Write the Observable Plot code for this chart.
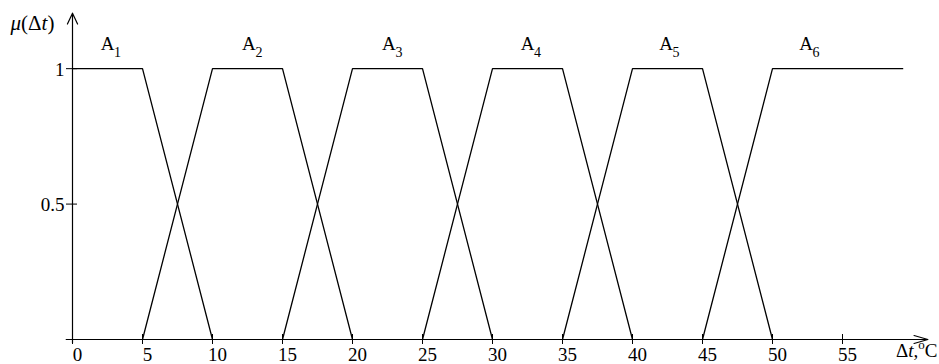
<!DOCTYPE html>
<html>
<head>
<meta charset="utf-8">
<script src="https://cdn.jsdelivr.net/npm/d3@7"></script>
<script src="https://cdn.jsdelivr.net/npm/@observablehq/plot@0.6"></script>
<style>
  html, body { margin: 0; padding: 0; background: #fff; }
  #chart svg { display: block; }
</style>
</head>
<body>
<div id="chart"></div>
<script>
// Membership functions (breakpoints in Δt, °C)
const setNames = ["A1", "A2", "A3", "A4", "A5", "A6"];
const setX = [
  [0, 5, 10],
  [5, 10, 15, 20],
  [15, 20, 25, 30],
  [25, 30, 35, 40],
  [35, 40, 45, 50],
  [45, 50, 59.3]
];
const setMu = [
  [1, 1, 0],
  [0, 1, 1, 0],
  [0, 1, 1, 0],
  [0, 1, 1, 0],
  [0, 1, 1, 0],
  [0, 1, 1]
];
const labelX = [2.5, 12.6, 22.6, 32.5, 42.4, 52.4];
const labelY = [1.09, 1.09, 1.09, 1.09, 1.09, 1.09];
const xTicks = [0, 5, 10, 15, 20, 25, 30, 35, 40, 45, 50, 55];
const yTicks = [0.5, 1];
const yTickLabels = ["0.5", "1"];

const points = setNames.flatMap((name, i) =>
  setX[i].map((x, j) => ({set: name, x, mu: setMu[i][j]})));
const labels = setNames.map((name, i) => ({
  letter: name[0], sub: name.slice(1), x: labelX[i], y: labelY[i]
}));

const font = "'Liberation Serif', 'Times New Roman', serif";

const plot = Plot.plot({
  width: 939,
  height: 364,
  marginLeft: 72,
  marginRight: 13,
  marginTop: 14,
  marginBottom: 25,
  style: {fontFamily: font, fontSize: "19px", background: "#fff", color: "#000"},
  x: {domain: [0, 61], axis: null},
  y: {domain: [0, 1.2], axis: null},
  marks: [
    // axes as arrows
    Plot.arrow([{x1: -0.45, y1: 0, x2: 61.1, y2: 0}], {
      x1: "x1", y1: "y1", x2: "x2", y2: "y2",
      stroke: "#000", strokeWidth: 1.2, headLength: 18, headAngle: 32, bend: 0
    }),
    Plot.arrow([{x1: 0, y1: -0.012, x2: 0, y2: 1.205}], {
      x1: "x1", y1: "y1", x2: "x2", y2: "y2",
      stroke: "#000", strokeWidth: 1.2, headLength: 15, headAngle: 50, bend: 0
    }),
    // x ticks
    Plot.ruleX(xTicks, {x: d => d, y1: 0, y2: 0, insetTop: -5, insetBottom: -5, stroke: "#000", strokeWidth: 1}),
    Plot.text(xTicks, {x: d => d, y: 0, text: d => String(d), dy: 15, dx: 5, fill: "#000", fontSize: 19}),
    // y ticks
    Plot.ruleY(yTicks, {y: d => d, x1: 0, x2: 0, insetLeft: -6, insetRight: -5, stroke: "#000", strokeWidth: 1}),
    Plot.text(yTicks, {x: 0, y: d => d, text: (d, i) => yTickLabels[i], textAnchor: "end", dx: -8, dy: 1, fill: "#000", fontSize: 19}),
    // membership functions
    Plot.line(points, {x: "x", y: "mu", z: "set", stroke: "#000", strokeWidth: 1.3}),
    // set labels
    Plot.text(labels, {x: "x", y: "y", text: "letter", fill: "#000", fontSize: 19, textAnchor: "middle"}),
    Plot.text(labels, {x: "x", y: "y", text: "sub", fill: "#000", fontSize: 14, dx: 10, dy: 8, textAnchor: "middle"}),
    // axis titles
    Plot.text(["μ(Δt)"], {frameAnchor: "top-left", dx: -62, dy: 1, text: d => d, fill: "#000", fontSize: 21, textAnchor: "start", className: "ytitle"}),
    Plot.text(["Δt, °C"], {frameAnchor: "bottom-right", dx: 11, dy: 17, text: d => d, fill: "#000", fontSize: 19, textAnchor: "end", className: "xtitle"})
  ]
});

// rich formatting of the axis titles (italics, superscript)
d3.select(plot).selectAll(".ytitle text").html(
  '<tspan font-style="italic">μ</tspan>(Δ<tspan font-style="italic">t</tspan>)');
d3.select(plot).selectAll(".xtitle text").html(
  'Δ<tspan font-style="italic">t</tspan>,<tspan font-size="13" dy="-8">o</tspan><tspan dy="8">C</tspan>');

document.getElementById("chart").appendChild(plot);
</script>
</body>
</html>
